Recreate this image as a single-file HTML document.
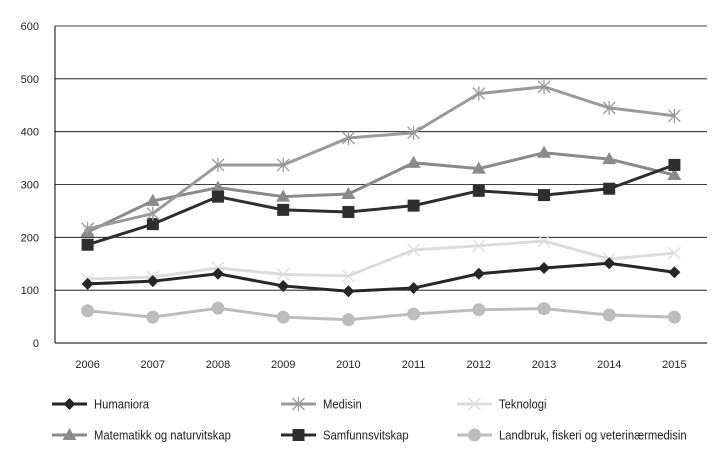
<!DOCTYPE html>
<html><head><meta charset="utf-8"><style>
body{margin:0;background:#fff}
svg{display:block;font-family:"Liberation Sans",sans-serif}
</style></head><body>
<svg id="c" width="719" height="468"></svg>
<script>
const years=["2006","2007","2008","2009","2010","2011","2012","2013","2014","2015"];
const yTicks=[0,100,200,300,400,500,600];
const humaniora=[112,117,131,108,98,104,131,142,151,134];
const medisin=[216,245,337,337,388,398,472,485,445,430];
const teknologi=[121,125,142,130,127,176,184,193,159,170];
const matematikk=[210,269,294,277,282,341,330,360,348,318];
const samfunn=[186,225,277,252,248,260,288,280,292,337];
const landbruk=[61,49,66,49,44,55,63,65,53,49];
const seriesNames=["Humaniora","Medisin","Teknologi","Matematikk og naturvitskap","Samfunnsvitskap","Landbruk, fiskeri og veterinærmedisin"];

const NS="http://www.w3.org/2000/svg";
const svg=document.getElementById('c');
const L=55,R=707,T=26,B=343;
const x=i=>L+(R-L)/years.length*(i+0.5);
const y=v=>B-(B-T)*v/600;
function el(t,a,p){const e=document.createElementNS(NS,t);for(const k in a)e.setAttribute(k,a[k]);(p||svg).appendChild(e);return e;}
yTicks.forEach(v=>{
  const g=el('line',{x1:L,x2:R,y1:y(v),y2:y(v),stroke:'#000','stroke-width':v===0?1:0.8});
  
  
  const t=el('text',{x:L-16,y:y(v)+4,'text-anchor':'end','font-size':11,fill:'#222'});t.textContent=v;
  
  
});
const ax=el('line',{x1:L,x2:L,y1:T,y2:B,stroke:'#000','stroke-width':1});


years.forEach((yr,i)=>{
  const t=el('text',{x:x(i),y:B+25,'text-anchor':'middle','font-size':11,fill:'#222'});t.textContent=yr;
  
  
});
function marker(g,type,cx,cy,col){
  let m;
  if(type==='diamond')m=el('polygon',{points:`${cx},${cy-6} ${cx+6},${cy} ${cx},${cy+6} ${cx-6},${cy}`,fill:col},g);
  else if(type==='square')m=el('rect',{x:cx-6,y:cy-6,width:12,height:12,fill:col},g);
  else if(type==='triangle')m=el('polygon',{points:`${cx},${cy-7} ${cx+7},${cy+5} ${cx-7},${cy+5}`,fill:col},g);
  else if(type==='circle')m=el('circle',{cx:cx,cy:cy,r:6.5,fill:col},g);
  else {m=el('path',{d:`M${cx-6} ${cy-6}L${cx+6} ${cy+6}M${cx-6} ${cy+6}L${cx+6} ${cy-6}`+(type==='star'?`M${cx} ${cy-7}V${cy+7}`:''),stroke:col,'stroke-width':1.3,fill:'none'},g);}
  
  
}
const defs=[[humaniora,'#262626','diamond'],[medisin,'#9a9a9a','star'],[teknologi,'#dcdcdc','x'],[matematikk,'#8a8a8a','triangle'],[samfunn,'#2e2e2e','square'],[landbruk,'#bdbdbd','circle']];
const order=[5,2,0,3,4,1];
order.forEach(s=>{
  const [d,col,mk]=defs[s];
  const g=el('g',{});
  
  
  const p=el('polyline',{points:d.map((v,i)=>x(i)+','+y(v)).join(' '),fill:'none',stroke:col,'stroke-width':3},g);
  
  
  d.forEach((v,i)=>marker(g,mk,x(i),y(v),col));
});
const lx=[52,281,457],ly=[404,435];
defs.forEach((d,s)=>{
  const cx=lx[s%3],cy=ly[Math.floor(s/3)];
  const g=el('g',{});
  
  
  el('line',{x1:cx,x2:cx+35,y1:cy,y2:cy,stroke:d[1],'stroke-width':3},g);
  marker(g,d[2],cx+17.5,cy,d[1]);
  const t=el('text',{x:cx+42,y:cy+4.5,'font-size':12.5,fill:'#222'},g);t.textContent=seriesNames[s];
  
  
  const w=t.getComputedTextLength();
  t.setAttribute('textLength',w*0.9);
  t.setAttribute('lengthAdjust','spacingAndGlyphs');
});
</script>
</body></html>
